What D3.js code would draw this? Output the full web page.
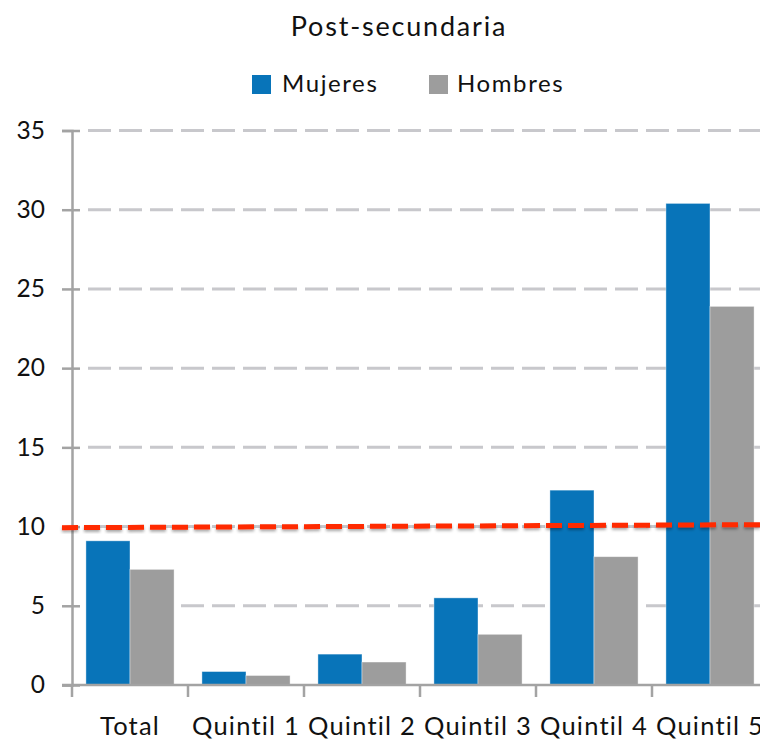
<!DOCTYPE html>
<html>
  <head>
    <meta charset="utf-8" />
    <style>
      body {
        margin: 0;
        background: white;
      }
      text {
        font-family: Lato, "Open Sans", sans-serif;
        fill: #111;
      }
    </style>
  </head>
  <body>
    <svg width="760" height="739"></svg>

    <script src="https://d3js.org/d3.v7.min.js"></script>
    <script>
      // data
      let categories = ["Total", "Quintil 1", "Quintil 2", "Quintil 3", "Quintil 4", "Quintil 5"];
      let mujeres = [9.1, 0.85, 1.95, 5.5, 12.3, 30.4];
      let hombres = [7.3, 0.6, 1.45, 3.2, 8.1, 23.9];
      let series = ["Mujeres", "Hombres"];
      let colors = ["#0874b9", "#9d9d9d"];
      let yTicks = [0, 5, 10, 15, 20, 25, 30, 35];
      // red dashed reference line, a touch tilted in the original
      let umbral = [9.93, 10.12];

      let svg = d3.select("svg");

      let x = d3
        .scaleBand()
        .domain(categories)
        .range([72, 768])
        .paddingInner(0.24)
        .paddingOuter(0.12);

      let xInner = d3.scaleBand().domain(series).range([0, x.bandwidth()]);

      let y = d3.scaleLinear().domain([0, 35]).range([685, 130.5]);

      // shadow for the red line
      let defs = svg.append("defs");
      defs
        .append("filter")
        .attr("id", "sombra")
        .attr("x", "-5%")
        .attr("y", "-200%")
        .attr("width", "110%")
        .attr("height", "500%")
        .append("feDropShadow")
        .attr("dx", 0)
        .attr("dy", 2)
        .attr("stdDeviation", 1.6)
        .attr("flood-color", "#000")
        .attr("flood-opacity", 0.35);

      // gridlines
      svg
        .append("g")
        .selectAll("line")
        .data(yTicks.filter((d) => d > 0))
        .join("line")
        .attr("x1", 88)
        .attr("x2", 760)
        .attr("y1", (d) => y(d))
        .attr("y2", (d) => y(d))
        .attr("stroke", "#c8c8cc")
        .attr("stroke-width", 3)
        .attr("stroke-dasharray", "23 8");

      // bars
      let rows = categories.map((c, i) => ({ cat: c, values: [mujeres[i], hombres[i]] }));

      svg
        .append("g")
        .selectAll("g")
        .data(rows)
        .join("g")
        .attr("transform", (d) => `translate(${x(d.cat)},0)`)
        .selectAll("rect")
        .data((d) => d.values.map((v, j) => ({ key: series[j], value: v, color: colors[j] })))
        .join("rect")
        .attr("x", (d) => xInner(d.key))
        .attr("width", xInner.bandwidth())
        .attr("y", (d) => y(d.value))
        .attr("height", (d) => y(0) - y(d.value))
        .attr("fill", (d) => d.color)
        .attr("stroke", "rgba(255,255,255,0.5)")
        .attr("stroke-width", 0.8);

      // y axis
      let yAxis = svg
        .append("g")
        .attr("transform", "translate(72,0)")
        .call(d3.axisLeft(y).tickValues(yTicks).tickSize(10).tickPadding(17));
      yAxis.select(".domain").attr("stroke", "#a3a3a3").attr("stroke-width", 2.5);
      yAxis
        .selectAll(".tick line")
        .attr("x2", 8)
        .attr("x1", -10)
        .attr("stroke", "#a3a3a3")
        .attr("stroke-width", 2.5);
      yAxis.selectAll(".tick text").attr("font-size", 24.5).attr("fill", "#111");

      // x axis
      let xAxis = svg
        .append("g")
        .attr("transform", `translate(0,${y(0)})`)
        .call(d3.axisBottom(x).tickSize(0).tickPadding(32).tickSizeOuter(0));
      xAxis.select(".domain").remove();
      xAxis.append("line").attr("x1", 62).attr("x2", 760).attr("stroke", "#a3a3a3").attr("stroke-width", 2.5);
      xAxis
        .selectAll(".sep")
        .data(categories)
        .join("line")
        .attr("class", "sep")
        .attr("x1", (d) => x(d) - (x.step() * x.paddingInner()) / 2)
        .attr("x2", (d) => x(d) - (x.step() * x.paddingInner()) / 2)
        .attr("y1", 0)
        .attr("y2", 12)
        .attr("stroke", "#a3a3a3")
        .attr("stroke-width", 2.5);
      xAxis
        .selectAll(".tick text")
        .attr("font-size", 25.5)
        .attr("letter-spacing", 1.2)
        .attr("fill", "#111");

      // reference line
      let ref = d3
        .scaleLinear()
        .domain([0, 1])
        .range([62, 760]);
      svg
        .append("line")
        .attr("x1", ref(0))
        .attr("x2", ref(1))
        .attr("y1", y(umbral[0]))
        .attr("y2", y(umbral[1]))
        .attr("stroke", "#ff2a00")
        .attr("stroke-width", 5)
        .attr("stroke-dasharray", "16 6")
        .attr("filter", "url(#sombra)");

      // title
      svg
        .append("text")
        .attr("x", 399)
        .attr("y", 36)
        .attr("text-anchor", "middle")
        .attr("font-size", 27)
        .attr("letter-spacing", 1.8)
        .text("Post-secundaria");

      // legend
      let legendX = [252, 429];
      let legend = svg
        .append("g")
        .selectAll("g")
        .data(series)
        .join("g")
        .attr("transform", (d, i) => `translate(${legendX[i]},75)`);
      legend
        .append("rect")
        .attr("width", 19)
        .attr("height", 19)
        .attr("fill", (d, i) => colors[i]);
      legend
        .append("text")
        .attr("x", (d, i) => (i == 0 ? 30 : 28))
        .attr("y", 17)
        .attr("font-size", 24)
        .attr("letter-spacing", 1.6)
        .text((d) => d);
    </script>
  </body>
</html>
